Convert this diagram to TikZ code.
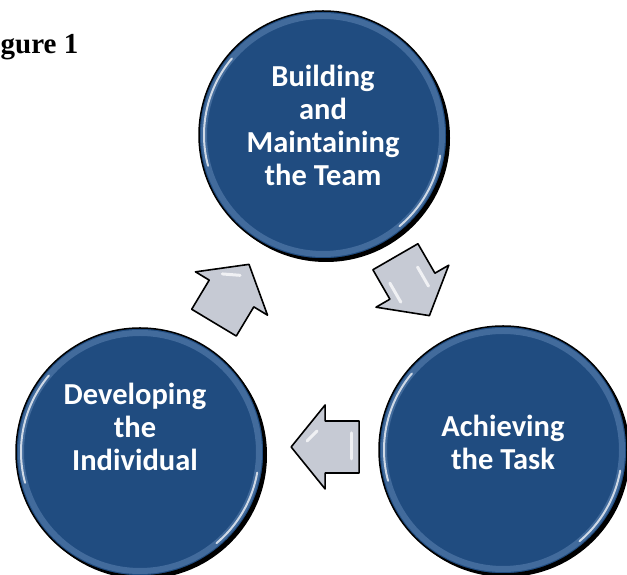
\documentclass[tikz,border=0pt]{standalone}
\usepackage{fontspec}
\setmainfont{Liberation Serif}
\newfontfamily\bubblefont{Carlito}
\usetikzlibrary{calc,shadows}
\definecolor{teamblue}{RGB}{32,76,128}
\definecolor{rimblue}{RGB}{130,165,210}
\definecolor{arrowgray}{RGB}{198,202,212}
\tikzset{
  bubble/.style={circle, fill=teamblue, draw=black, line width=1.5pt, minimum size=248pt, inner sep=0pt,
    drop shadow={shadow xshift=3pt, shadow yshift=-3pt, fill=black, opacity=1}},
  bubbletext/.style={text=white, align=center, font=\bubblefont\bfseries\fontsize{30.5}{33}\selectfont},
  rim/.style={draw=rimblue, line width=6pt, opacity=.35},
  gloss/.style={draw=white, line width=2pt, opacity=.75, line cap=round},
  blockarrow/.style={draw=black, line width=1.6pt, fill=arrowgray, line join=round},
  caption/.style={font=\bfseries\fontsize{29}{32}\selectfont}
}
\begin{document}
\begin{tikzpicture}[x=1pt, y=1pt]
\useasboundingbox (0,0) rectangle (627,575);
\node[caption, anchor=base west, inner sep=0pt] (fig) at (0.5,521) {gure 1};
% circles
\node[bubble] (team) at (323,440) {};
\node[bubble] (dev) at (140,123) {};
\node[bubble] (task) at (503,125) {};
\foreach \c in {team,dev,task}{
  \draw[rim] (\c.center) circle (119);
  \draw[gloss] (\c.center) ++(140:119) arc (140:195:119);
  \draw[gloss] (\c.center) ++(-50:119) arc (-50:-10:119);
}
\node[bubbletext] (teamlabel) at ([yshift=10pt]team.center) {Building\\and\\Maintaining\\the Team};
\node[bubbletext] (devlabel) at ([yshift=25pt,xshift=-5pt]dev.center) {Developing\\the\\Individual};
\node[bubbletext] (tasklabel) at ([yshift=8pt]task.center) {Achieving\\the Task};
% arrows between circles
\coordinate (up) at ($(dev)!0.5!(team)$);
\coordinate (down) at ($(team)!0.48!(task)+(3,0)$);
\coordinate (back) at ($(task)!0.49!(dev)+(0,4)$);
\begin{scope}[shift={(up)}, rotate=59]
  \draw[blockarrow] (-34,-26) -- (0,-26) -- (0,-42) -- (34,0) -- (0,42) -- (0,26) -- (-34,26) -- cycle;
  \draw[gloss, line width=3pt] (12,18) -- (20,2);
\end{scope}
\begin{scope}[shift={(down)}, rotate=-60]
  \draw[blockarrow] (-34,-26) -- (0,-26) -- (0,-42) -- (34,0) -- (0,42) -- (0,26) -- (-34,26) -- cycle;
  \draw[gloss, line width=3pt] (-14,14) -- (8,14);
  \draw[gloss, line width=3pt] (-14,-18) -- (8,-18);
\end{scope}
\begin{scope}[shift={(back)}, rotate=180]
  \draw[blockarrow] (-34,-26) -- (0,-26) -- (0,-42) -- (34,0) -- (0,42) -- (0,26) -- (-34,26) -- cycle;
  \draw[gloss, line width=3pt] (8,-16) -- (18,-6);
  \draw[gloss, line width=3pt] (-26,-14) -- (-26,12);
\end{scope}
\end{tikzpicture}
\end{document}
